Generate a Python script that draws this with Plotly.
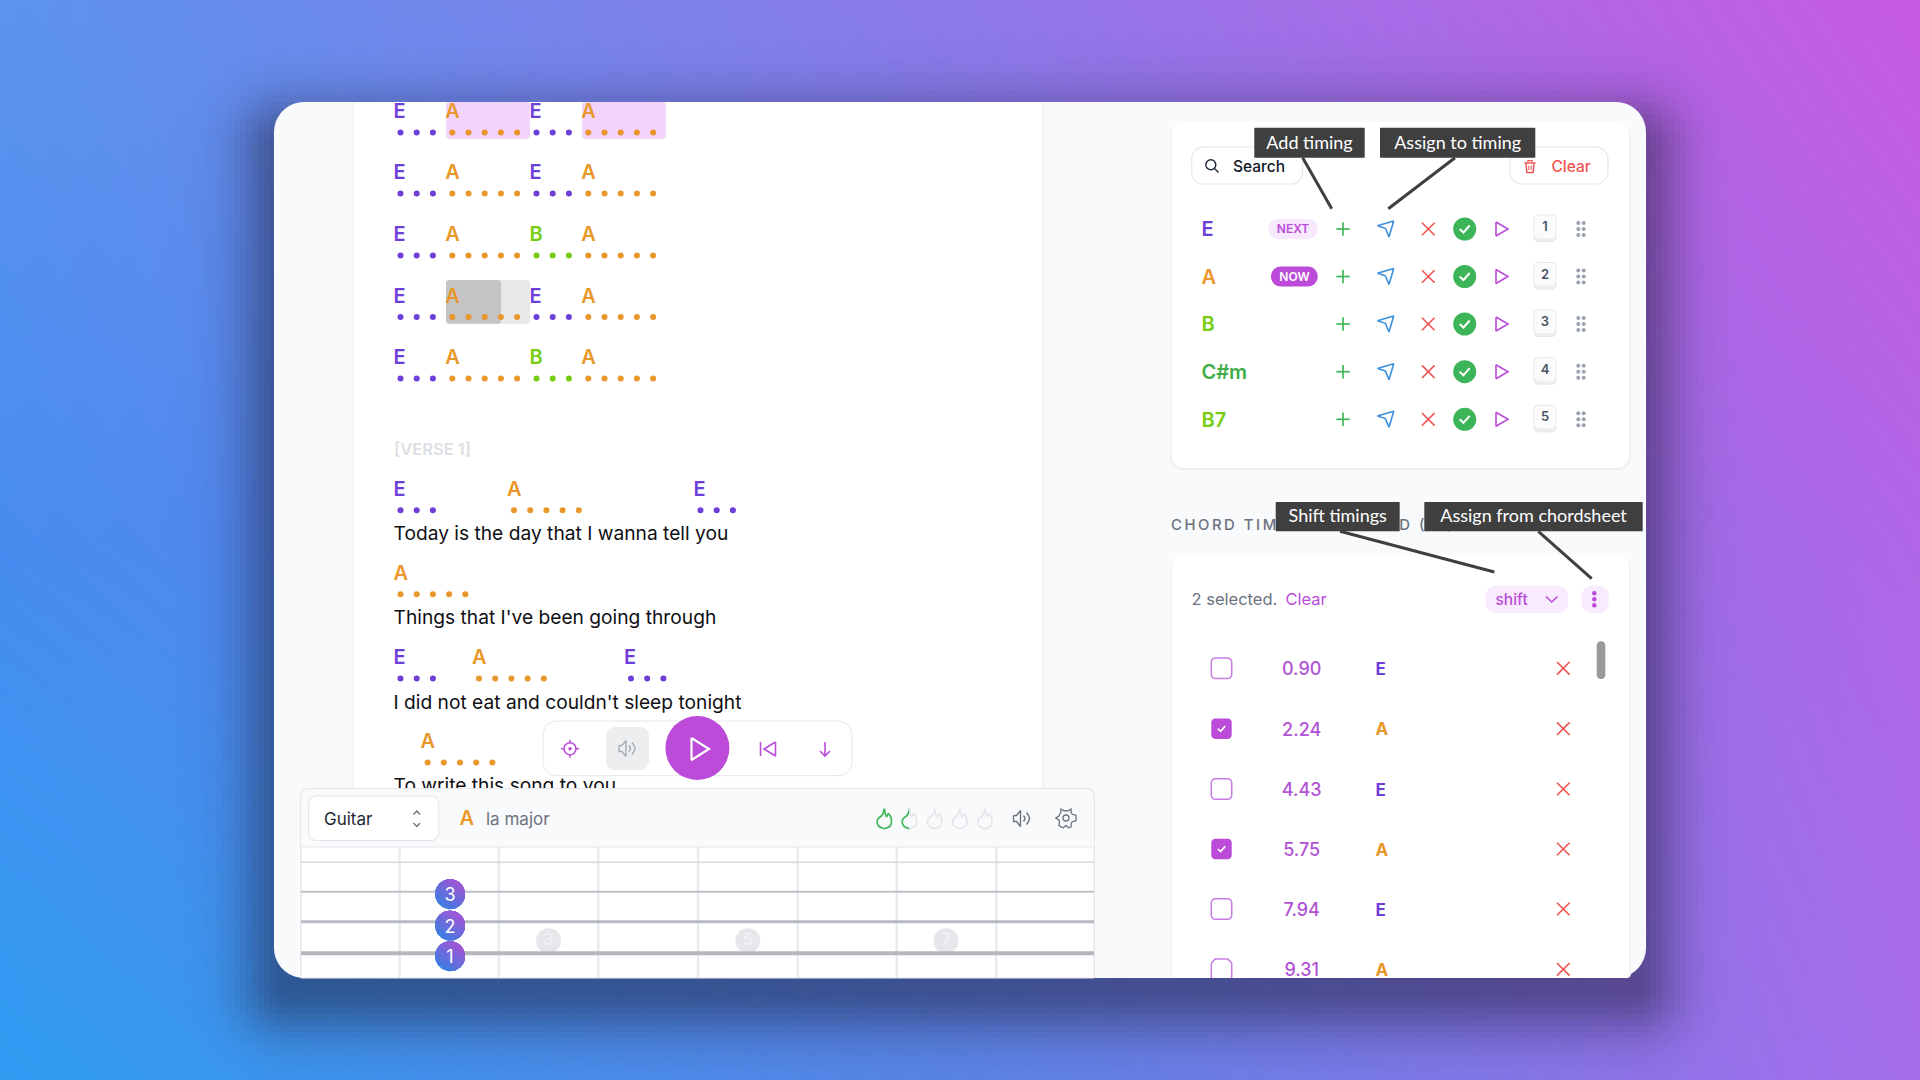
import numpy as np
import plotly.graph_objects as go

# --- values ---
chord_colors = {"E": "#6d3fd8", "A": "#e8982a", "B": "#76cc10", "C#m": "#3fae49", "B7": "#76cc10"}
chord_beats = {"E": 3, "A": 5, "B": 3}

intro_rows = [
    ["E", "A", "E", "A"],
    ["E", "A", "E", "A"],
    ["E", "A", "B", "A"],
    ["E", "A", "E", "A"],
    ["E", "A", "B", "A"],
]
section_label = "[VERSE 1]"
verse_chords = [["E", "A", "E"], ["A"], ["E", "A", "E"], ["A"]]
verse_lyrics = [
    "Today is the day that I wanna tell you",
    "Things that I've been going through",
    "I did not eat and couldn't sleep tonight",
    "To write this song to you",
]
instrument = "Guitar"
current_chord = "A"
current_name = "la major"
finger_numbers = ["3", "2", "1"]
fret_markers = ["3", "5", "7"]

palette_chords = ["E", "A", "B", "C#m", "B7"]
palette_status = ["NEXT", "NOW", "", "", ""]
palette_keys = ["1", "2", "3", "4", "5"]

timing_values = ["0.90", "2.24", "4.43", "5.75", "7.94", "9.31"]
timing_chords = ["E", "A", "E", "A", "E", "A"]
timing_checked = [False, True, False, True, False, False]

# --- placement on the 1920x1080 page ---
intro_y = [111, 172, 234, 295.5, 357]
verse_y = [488.7, 572.7, 657, 741]
verse_left = [[394.5, 508, 694.5], [394.5], [394.5, 473, 625], [421.6]]
lyric_y = [533, 617, 701.7, 785]
palette_y = [229, 276.5, 324, 371.7, 419.3]
timing_y = [668.3, 728.7, 789, 849, 909, 969.3]
fret_x = [399.6, 498.7, 598.3, 698, 797.6, 896.7, 996.3]

PURPLE = "#bb4bd8"
RED = "#ef5350"
GREEN = "#3fb65a"
BLUE = "#3b8fdc"
BORDER = "#e5e7eb"
GRAY = "#6b7280"
DARK = "#3f3f3f"
FONT = "Inter"
TEXT_DY = 2.3
HAIR = "\u200a"


def background():
    xs = np.arange(3, 1920, 6)
    ys = np.arange(3, 1080, 6)
    grid = np.array([
        [[92, 148, 238], [141, 121, 232], [199, 90, 227]],
        [[72, 140, 240], [110, 125, 235], [176, 102, 230]],
        [[47, 156, 242], [90, 133, 232], [165, 109, 234]],
    ], dtype=float)
    gx = xs / 960
    gy = ys / 540
    ix = np.minimum(gx.astype(int), 1)
    iy = np.minimum(gy.astype(int), 1)
    tx = (gx - ix)[None, :, None]
    ty = (gy - iy)[:, None, None]
    a = grid[iy][:, ix]
    b = grid[iy][:, ix + 1]
    c = grid[iy + 1][:, ix]
    d = grid[iy + 1][:, ix + 1]
    img = (a * (1 - tx) + b * tx) * (1 - ty) + (c * (1 - tx) + d * tx) * ty
    # soft drop shadow under the window
    X, Y = np.meshgrid(xs, ys)
    dx = np.maximum(np.maximum(290 - X, X - 1630), 0)
    dy = np.maximum(np.maximum(150 - Y, Y - 985), 0)
    dist = np.hypot(dx, dy)
    shade = 0.48 * np.exp(-(dist / 52) ** 2)
    img = img * (1 - shade[:, :, None]) + np.array([25, 25, 50]) * shade[:, :, None]
    return np.round(img).astype(np.uint8)


fig = go.Figure()
fig.add_trace(go.Image(z=background(), x0=3, y0=3, dx=6, dy=6, zsmooth="fast", hoverinfo="skip"))


def rrect(x0, y0, x1, y1, r, fill, line=None, lw=1.0, rb=None):
    rb = r if rb is None else rb
    xs, ys = [], []
    for cx, cy, a0, rad in [(x1 - r, y0 + r, -90, r), (x1 - rb, y1 - rb, 0, rb), (x0 + rb, y1 - rb, 90, rb), (x0 + r, y0 + r, 180, r)]:
        t = np.radians(np.linspace(a0, a0 + 90, 10))
        xs += list(cx + rad * np.cos(t))
        ys += list(cy + rad * np.sin(t))
    xs.append(xs[0])
    ys.append(ys[0])
    fig.add_trace(go.Scatter(
        x=xs, y=ys, mode="lines", fill="toself", fillcolor=fill,
        line=dict(color=line or fill, width=lw if line else 0, simplify=False),
        hoverinfo="skip", showlegend=False,
    ))


def stroke(points, color, width=1.6, spline=False):
    fig.add_trace(go.Scatter(
        x=[p[0] for p in points], y=[p[1] for p in points], mode="lines",
        line=dict(color=color, width=width, shape="spline" if spline else "linear", simplify=False),
        hoverinfo="skip", showlegend=False,
    ))


def dots(xs, ys, color, size=6, line=None, lw=0):
    fig.add_trace(go.Scatter(
        x=xs, y=ys, mode="markers", marker=dict(color=color, size=size, line=dict(color=line or color, width=lw)),
        hoverinfo="skip", showlegend=False,
    ))


def text(x, y, s, size, color, weight=400, pos="middle right", family=FONT):
    fig.add_trace(go.Scatter(
        x=[x], y=[y + TEXT_DY], mode="text", text=[s], textposition=pos,
        textfont=dict(family=family, size=size, color=color, weight=weight),
        hoverinfo="skip", showlegend=False,
    ))


def gradient_disc(x, y, r, start, end, steps=14):
    # painted back to front, each slice is what is left of the disc past the cut
    t = np.radians(np.linspace(0, 360, 73))
    px, py = np.cos(t), np.sin(t)
    ux, uy = 0.6, -0.8
    start, end = np.array(start), np.array(end)
    for k in range(steps):
        f = k / (steps - 1)
        c = np.round(start + (end - start) * f).astype(int)
        cut = -1 + 2 * f
        proj = px * ux + py * uy
        if k == 0:
            keep = np.ones_like(proj, dtype=bool)
        else:
            keep = proj >= cut - 0.01
        if keep.sum() < 3:
            continue
        xs, ys = x + r * px[keep], y + r * py[keep]
        if k > 0:
            order = np.argsort(np.arctan2(py[keep] * ux - px[keep] * uy, px[keep] * ux + py[keep] * uy))
            xs, ys = xs[order], ys[order]
        fig.add_trace(go.Scatter(
            x=list(xs) + [xs[0]], y=list(ys) + [ys[0]], mode="lines", fill="toself",
            fillcolor=f"rgb({c[0]},{c[1]},{c[2]})", line=dict(width=0), hoverinfo="skip", showlegend=False,
        ))


def chord_group(left, y, name):
    text(left - 1, y, name, 20, chord_colors[name], 600)
    beat_x = [left + 6 + i * 16.2 for i in range(chord_beats[name])]
    dots(beat_x, [y + 21.5] * len(beat_x), chord_colors[name], size=6)


def cross(x, y, color, half=6.3, width=1.6):
    stroke([(x - half, y - half), (x + half, y + half)], color, width)
    stroke([(x - half, y + half), (x + half, y - half)], color, width)


def check(x, y, half=5, color="white", width=2):
    stroke([(x - half, y), (x - half * 0.25, y + half * 0.7), (x + half, y - half * 0.7)], color, width)


def speaker(x, y, color):
    stroke([(x - 8, y - 3), (x - 5, y - 3), (x - 1, y - 8), (x - 1, y + 8), (x - 5, y + 3), (x - 8, y + 3), (x - 8, y - 3)], color, 1.4)
    stroke([(x + 2, y - 3), (x + 3.5, y), (x + 2, y + 3)], color, 1.4, spline=True)
    stroke([(x + 5, y - 6), (x + 8, y), (x + 5, y + 6)], color, 1.4, spline=True)


def flame(x, y, left, right):
    stroke([(x, y - 10), (x - 2, y - 4), (x - 7, y + 1), (x - 6, y + 7), (x, y + 10)], left, 1.7, spline=True)
    stroke([(x, y + 10), (x + 6, y + 7), (x + 7, y + 1), (x + 4, y - 5), (x + 2, y - 2), (x, y - 10)], right, 1.7, spline=True)


def tooltip(x0, y0, x1, y1, s, tx, ty, size=18):
    rrect(x0, y0, x1, y1, 0.5, DARK)
    text((x0 + x1) / 2, (y0 + y1) / 2 - 1, s, size, "white", 400, "middle center", "Lato")
    stroke([(tx[0], ty[0]), (tx[1], ty[1])], DARK, 3)


# window
rrect(274, 102, 1646, 978, 30, "#f8fafc")

# lyric sheet
rrect(352, 102, 1044, 800, 1, "#f3f5f8")
rrect(354, 102, 1042, 800, 1, "#ffffff")
rrect(446, 102, 530, 139, 3, "#f3d4fb")
rrect(582, 102, 666, 139, 3, "#f3d4fb")
rrect(446, 280, 530, 323.7, 3, "#e8e8e8")
rrect(446, 280, 501, 323.7, 3, "#c4c4c4")

for row, y in zip(intro_rows, intro_y):
    left = 394.5
    for name in row:
        chord_group(left, y, name)
        left += chord_beats[name] * 16.2 + 3.2

text(394, 448.7, section_label, 16.5, "#dcdfe4", 600)

for names, lefts, y in zip(verse_chords, verse_left, verse_y):
    for name, left in zip(names, lefts):
        chord_group(left, y, name)
for line, y in zip(verse_lyrics, lyric_y):
    text(393.5, y, line, 19.2, "#0f0f14", 400)

# player controls
rrect(543, 721, 852, 775.7, 14, "#ffffff", BORDER, 1)
rrect(606, 727, 649, 770, 9, "#eceef0")
dots([570], [748.7], "rgba(0,0,0,0)", size=12, line=PURPLE, lw=1.6)
dots([570], [748.7], PURPLE, size=3.5)
for a, b in [((570, 739.7), (570, 743)), ((570, 754.5), (570, 757.7)), ((561, 748.7), (564.3, 748.7)), ((575.7, 748.7), (579, 748.7))]:
    stroke([a, b], PURPLE, 1.5)
speaker(627, 748.5, "#a9aeb5")
dots([697.4], [748], PURPLE, size=64)
stroke([(691.5, 738), (709, 749), (691.5, 760), (691.5, 738)], "white", 2.2)
stroke([(760.5, 742), (760.5, 756)], PURPLE, 1.6)
stroke([(775.5, 742), (764, 749), (775.5, 756), (775.5, 742)], PURPLE, 1.6)
stroke([(825, 742), (825, 756)], PURPLE, 1.6)
stroke([(820, 751), (825, 756), (830, 751)], PURPLE, 1.6)

# fretboard panel
rrect(300, 788, 1095, 978, 8, BORDER, rb=0.1)
rrect(301, 789, 1094, 978, 8, "#f9fafb", rb=0.1)
fig.add_trace(go.Scatter(
    x=[301, 1094, 1094, 301, 301], y=[847, 847, 978, 978, 847], mode="lines", fill="toself",
    fillcolor="#ffffff", line=dict(color=BORDER, width=1), hoverinfo="skip", showlegend=False,
))
rrect(308.6, 796, 438.7, 840.7, 8, "#ffffff", BORDER, 1.2)
text(324, 818, instrument, 17, "#1f2937", 400)
stroke([(413.5, 814.5), (416.8, 811), (420, 814.5)], GRAY, 1.3)
stroke([(413.5, 823), (416.8, 826.5), (420, 823)], GRAY, 1.3)
text(459.5, 818, current_chord, 20, chord_colors[current_chord], 600)
text(486, 818, current_name, 17, GRAY, 400)
flame(884.4, 818.7, GREEN, GREEN)
flame(909.5, 818.7, GREEN, "#e5e7eb")
flame(934.7, 818.7, "#e5e7eb", "#e5e7eb")
flame(959.9, 818.7, "#e5e7eb", "#e5e7eb")
flame(985, 818.7, "#e5e7eb", "#e5e7eb")
speaker(1021.5, 818.5, GRAY)
t = np.radians(np.arange(0, 361, 15))
gear_r = 8.8 + 1.4 * np.sign(np.cos(6 * t))
stroke(list(zip(1066 + gear_r * np.cos(t), 818 + gear_r * np.sin(t))), GRAY, 1.3)
dots([1066], [818], "rgba(0,0,0,0)", size=6, line=GRAY, lw=1.3)

for x in fret_x:
    stroke([(x, 847), (x, 978)], "#e7e9ec", 2.2)
for x, s in zip([548.5, 747.8, 946], fret_markers):
    dots([x], [940.7], "#e5e7eb", size=25)
    text(x, 939, s, 16, "#f4f5f6", 400, "middle center")
for y, c, w in [(862.3, "#d6d9dd", 1.5), (891.7, "#bcc1c7", 2), (921.7, "#b6bbc1", 3), (953.3, "#b4b8bd", 4)]:
    stroke([(301, y), (1094, y)], c, w)
for y, s in zip([894.3, 925.7, 956.3], finger_numbers):
    gradient_disc(450, y, 15, (62, 125, 225), (168, 82, 212))
    text(450, y, s, 18, "white", 400, "middle center")

# chord palette
rrect(1170, 124, 1631, 470, 13, "#eef0f4")
rrect(1171.7, 122, 1629, 468, 12, "#ffffff")
rrect(1191.7, 147, 1302.7, 184, 12, "#ffffff", BORDER, 1.2)
dots([1210.8], [164.8], "rgba(0,0,0,0)", size=10, line="#1f2937", lw=1.4)
stroke([(1214.5, 168.5), (1218.5, 172.5)], "#1f2937", 1.5)
text(1233, 165.5, "Search", 15.5, "#111827", 500)
rrect(1510, 147, 1608, 184, 12, "#ffffff", BORDER, 1.2)
stroke([(1524.5, 163), (1535.5, 163)], RED, 1.4)
stroke([(1528, 163), (1528, 160.5), (1532, 160.5), (1532, 163)], RED, 1.2)
stroke([(1526, 163), (1526.8, 172.5), (1533.2, 172.5), (1534, 163)], RED, 1.4)
stroke([(1528.8, 165.5), (1528.8, 170)], RED, 1)
stroke([(1531.2, 165.5), (1531.2, 170)], RED, 1)
text(1551.5, 165.5, "Clear", 15.5, RED, 500)

for name, status, key, y in zip(palette_chords, palette_status, palette_keys, palette_y):
    text(1201.5, y, name, 20, chord_colors[name], 600)
    if status == "NEXT":
        rrect(1268.3, y - 10, 1317.7, y + 10, 10, "#f8e8fd")
        text(1293, y - 1, status, 12, PURPLE, 600, "middle center")
    elif status == "NOW":
        rrect(1271, y - 10, 1317.7, y + 10, 10, PURPLE)
        text(1294.5, y - 1, status, 12, "white", 600, "middle center")
    stroke([(1336.3, y), (1349.7, y)], GREEN, 1.7)
    stroke([(1343, y - 6.7), (1343, y + 6.7)], GREEN, 1.7)
    stroke([(1377.4, y - 3.3), (1393.7, y - 8), (1389, y + 8), (1385.4, y - 0.7), (1377.4, y - 3.3)], BLUE, 1.6)
    cross(1428.3, y, RED)
    dots([1464.7], [y], "#3cb458", size=23)
    check(1464.7, y)
    stroke([(1496, y - 7), (1508, y), (1496, y + 7), (1496, y - 7)], PURPLE, 1.6)
    rrect(1534, y - 14, 1556, y + 12.5, 4, "#eceef1", BORDER, 1)
    rrect(1534.5, y - 13.5, 1555.5, y + 9, 4, "#fbfbfc")
    text(1545, y - 3.5, key, 13, "#4b5563", 600, "middle center")
    dots([1578.3, 1583.7] * 3, [y - 6, y - 6, y, y, y + 6, y + 6], "#9ca3af", size=4)

# chord timings
text(1171, 524.5, (HAIR * 2).join("CHORD TIMINGS DEFINED (12)"), 14.8, GRAY, 500)
rrect(1170, 557, 1631, 978, 13, "#f1f3f6", rb=4)
rrect(1171.7, 555, 1629, 978, 12, "#ffffff", rb=4)
text(1191.5, 598.3, "2 selected.", 16.5, GRAY, 400)
text(1285.5, 598.3, "Clear", 16.5, PURPLE, 400)
rrect(1485.7, 585.7, 1568, 613, 10, "#f8ebfd")
text(1495.5, 598.5, "shift", 15.5, PURPLE, 500)
stroke([(1546, 596.5), (1551.7, 602), (1557.5, 596.5)], PURPLE, 1.5)
rrect(1581.7, 585.7, 1608.7, 613, 10, "#f8ebfd")
dots([1594.3] * 3, [593.3, 599.3, 605.3], PURPLE, size=4.5)
rrect(1596.7, 641.3, 1605.3, 679, 4, "#9a9a9a")

for value, name, checked, y in zip(timing_values, timing_chords, timing_checked, timing_y):
    if checked:
        rrect(1211.3, y - 10.2, 1231.7, y + 10.2, 4, PURPLE)
        check(1221.5, y, 3.7, "white", 1.7)
    elif y + 10 > 978:
        stroke([(1211.3, 978), (1211.3, y - 6), (1215, y - 10.2), (1228, y - 10.2), (1231.7, y - 6), (1231.7, 978)], "#c77de3", 1.5)
    else:
        rrect(1211.3, y - 10.2, 1231.7, y + 10.2, 4, "#ffffff", "#c77de3", 1.5)
    text(1301.7, y, value, 18, "#b153d5", 500, "middle center")
    text(1375.5, y, name, 17, chord_colors[name], 700)
    cross(1563.3, y, RED)

# callouts
tooltip(1254.3, 127.7, 1364.7, 157.7, "Add timing", (1302.7, 1331.7), (157.7, 208.7))
tooltip(1380, 127.7, 1535.3, 157.7, "Assign to timing", (1455, 1388.3), (157.7, 208.7))
tooltip(1275.7, 502, 1399.7, 531.3, "Shift timings", (1340, 1494.3), (531.3, 572))
tooltip(1424.3, 502, 1642.7, 531.3, "Assign from chordsheet", (1538.3, 1591.7), (531.3, 578.7))

fig.update_layout(
    width=1920, height=1080, margin=dict(l=0, r=0, t=0, b=0), showlegend=False,
    paper_bgcolor="#ffffff", plot_bgcolor="#ffffff",
    xaxis=dict(range=[0, 1920], visible=False, fixedrange=True),
    yaxis=dict(range=[1080, 0], visible=False, fixedrange=True),
)
fig.write_html("out.html", config={"displayModeBar": False},
               post_script="document.body.style.margin='0';document.body.style.overflow='hidden';")
